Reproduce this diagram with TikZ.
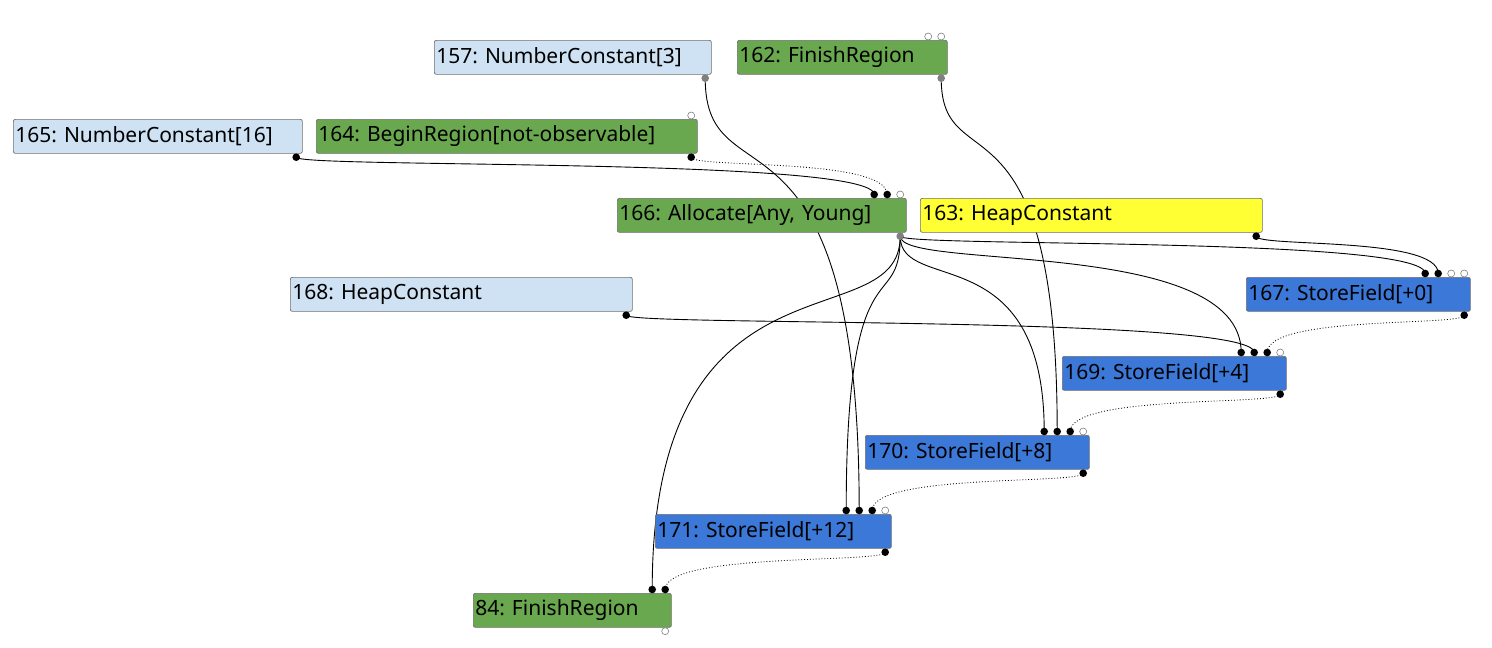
\documentclass[tikz,border=0pt]{standalone}
\usepackage{fontspec}
\setmainfont{Noto Sans}
\usetikzlibrary{calc}
\pgfdeclarelayer{bg}
\pgfsetlayers{bg,main}
\definecolor{cconst}{RGB}{207,226,243}
\definecolor{cctrl}{RGB}{106,168,79}
\definecolor{cheap}{RGB}{255,255,51}
\definecolor{cstore}{RGB}{60,120,216}
\definecolor{cborder}{RGB}{110,110,110}
\definecolor{cport}{RGB}{128,128,128}
\frenchspacing
\newcommand\gn[6]{\node[gnode, fill=#5, text width=#4pt] (#1) at (#2,#3) {#6};}
\newcommand\ip[3]{\coordinate (#1) at ($(#2.north east)+(-6.5-13*#3,-3.5)$);}
\newcommand\op[2]{\coordinate (#1) at ($(#2.south east)+(-6.5,3.5)$);}
\newcommand\ed[3][]{\draw[edge,#1] (#2) .. controls ($(#2)!0.3!(#2|-#3)$) and (#3|-#2) .. (#3);}
\begin{document}
\begin{tikzpicture}[x=1pt,y=-1pt,
  gnode/.style={draw=cborder, rounded corners=2pt, anchor=north west, minimum height=34pt,
    inner sep=2pt, align=left, font=\fontsize{21}{23}\selectfont, line width=0.7pt},
  edge/.style={line width=0.9pt, black},
  dotedge/.style={dotted, line width=0.8pt},
  pfull/.style={fill=black},
  pgray/.style={fill=cport},
  popen/.style={fill=white, draw=cport, line width=0.6pt}]
\useasboundingbox (0,0) rectangle (1492,648);
\gn{n157}{434}{40}{273}{cconst}{157: NumberConstant[3]}
\gn{n162}{737}{40}{206}{cctrl}{162: FinishRegion}
\gn{n165}{13}{119}{285}{cconst}{165: NumberConstant[16]}
\gn{n164}{316}{119}{377}{cctrl}{164: BeginRegion[not-observable]}
\gn{n166}{617}{198}{285}{cctrl}{166: Allocate[Any, Young]}
\gn{n163}{920}{198}{338}{cheap}{163: HeapConstant}
\gn{n168}{290}{277}{338}{cconst}{168: HeapConstant}
\gn{n167}{1246}{277}{220}{cstore}{167: StoreField[+0]}
\gn{n169}{1062}{356}{220}{cstore}{169: StoreField[+4]}
\gn{n170}{865}{435}{220}{cstore}{170: StoreField[+8]}
\gn{n171}{655}{514}{232}{cstore}{171: StoreField[+12]}
\gn{n84}{473}{593}{194}{cctrl}{84: FinishRegion}
% ports
\op{o157}{n157} \op{o162}{n162} \op{o165}{n165} \op{o164}{n164} \op{o166}{n166}
\op{o163}{n163} \op{o168}{n168} \op{o167}{n167} \op{o169}{n169} \op{o170}{n170}
\op{o171}{n171} \op{o84}{n84}
\ip{i162a}{n162}{1} \ip{i162b}{n162}{0}
\ip{i164a}{n164}{0}
\ip{i166a}{n166}{2} \ip{i166b}{n166}{1} \ip{i166c}{n166}{0}
\ip{i167a}{n167}{3} \ip{i167b}{n167}{2} \ip{i167c}{n167}{1} \ip{i167d}{n167}{0}
\ip{i169a}{n169}{3} \ip{i169b}{n169}{2} \ip{i169c}{n169}{1} \ip{i169d}{n169}{0}
\ip{i170a}{n170}{3} \ip{i170b}{n170}{2} \ip{i170c}{n170}{1} \ip{i170d}{n170}{0}
\ip{i171a}{n171}{3} \ip{i171b}{n171}{2} \ip{i171c}{n171}{1} \ip{i171d}{n171}{0}
\ip{i84a}{n84}{1} \ip{i84b}{n84}{0}
\begin{pgfonlayer}{bg}
\ed{o165}{i166a}
\ed[dotedge]{o164}{i166b}
\ed{o157}{i171b}
\ed{o162}{i170b}
\ed{o166}{i167a}
\ed{o163}{i167b}
\ed{o166}{i169a}
\ed{o168}{i169b}
\ed{o166}{i170a}
\ed{o166}{i171a}
\ed{o166}{i84a}
\ed[dotedge]{o167}{i169c}
\ed[dotedge]{o169}{i170c}
\ed[dotedge]{o170}{i171c}
\ed[dotedge]{o171}{i84b}
\end{pgfonlayer}
% port bubbles
\foreach \p in {o165,o164,o163,o168,o167,o169,o170,o171,
  i166a,i166b,i167a,i167b,i169a,i169b,i169c,i170a,i170b,i170c,i171a,i171b,i171c,i84a,i84b}
  \fill[pfull] (\p) circle (3.8);
\foreach \p in {o157,o162,o166}
  \fill[pgray] (\p) circle (3.8);
\foreach \p in {i162a,i162b,i164a,i166c,i167c,i167d,i169d,i170d,i171d,o84}
  \filldraw[popen] (\p) circle (3.5);
\end{tikzpicture}
\end{document}
